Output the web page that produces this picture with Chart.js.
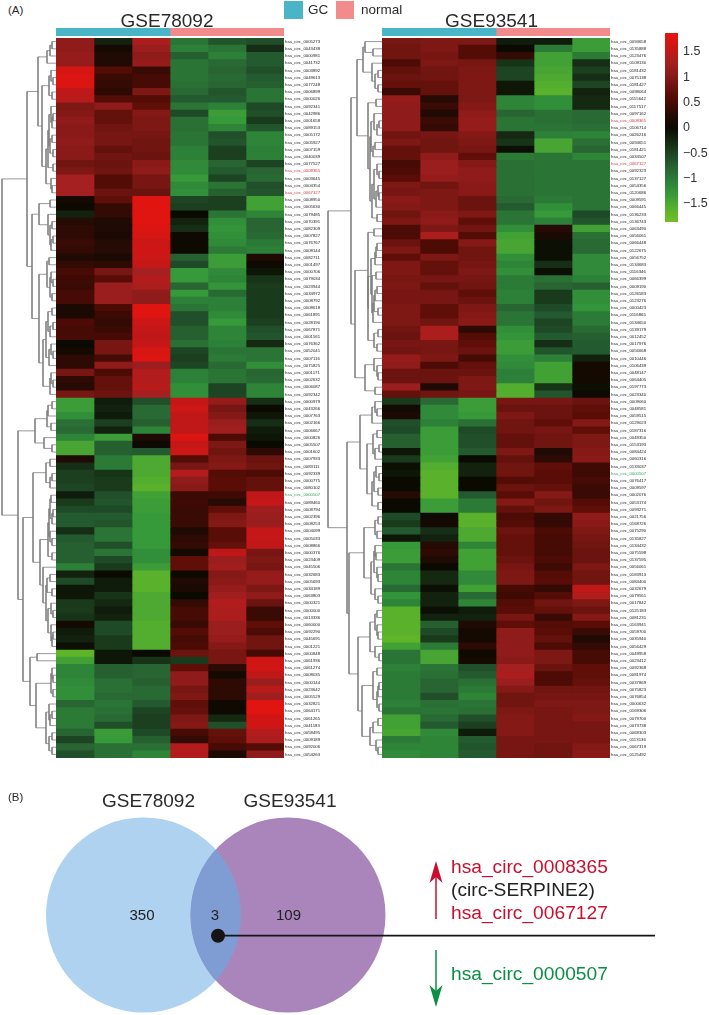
<!DOCTYPE html>
<html>
<head>
<meta charset="UTF-8"/>
<title>circRNA heatmaps and Venn</title>
<style>
  html, body { margin:0; padding:0; background:#fff; }
  body { position:relative; width:709px; height:1015px; overflow:hidden; font-family:'Liberation Sans', Arial, sans-serif; }
  canvas { position:absolute; display:block; }
  .t { position:absolute; white-space:nowrap; line-height:1; color:#2a2a2a; }
  .swatch { position:absolute; }
</style>
<script src="https://cdn.jsdelivr.net/npm/chart.js"></script>
</head>
<body>
<script>
const groupNames = ['GC', 'normal'];
const groupSizes = [3, 3];
const groupColors = ['#4AB5C6', '#F28B8B'];

const leftIds = ['0005273','0043438','0000981','0041732','0003892','0049613','0077248','0006899','0000026','0092341',
  '0042986','0001658','0089153','0005172','0005927','0007159','0040039','0077527','0008365','0003645',
  '0004354','0067127','0008950','0005630','0079485','0070391','0082309','0007827','0076767','0008144',
  '0082711','0001497','0000706','0079034','0023944','0034972','0008792','0008618','0061891','0028190',
  '0067871','0001561','0076362','0052041','0007116','0075825','0001171','0002632','0006087','0092342',
  '0000979','0043266','0007763','0002166','0006667','0000826','0005507','0001602','0007933','0083111',
  '0092339','0000775','0080102','0000507','0089460','0008794','0002396','0008253','0004099','0005033',
  '0008866','0000376','0023409','0045506','0032683','0005693','0034189','0063803','0000321','0000000',
  '0013336','0060000','0092290','0045691','0001221','0000848','0061936','0061274','0008035','0000144',
  '0023642','0005529','0032821','0064171','0061265','0041183','0058495','0009189','0092006','0054263'];

const rightIds = ['0094658','0135888','0123476','0108130','0181432','0075138','0181427','0098064','0115642','0117517',
  '0097162','0008365','0106714','0026216','0094651','0181421','0034507','0067127','0092323','0137127',
  '0054356','0120686','0009591','0066445','0136233','0136743','0063490','0056061','0066448','0122675',
  '0056752','0134683','0116346','0066399','0009190','0126583','0123276','0000423','0116865','0134650',
  '0139179','0012452','0017976','0056668','0010446','0106439','0048147','0064405','0197773','0023340',
  '0009060','0048581','0059515','0129023','0187316','0049350','0153193','0084424','0060316','0133037',
  '0000507','0076417','0009597','0002076','0053174','0093271','0021756','0168726','0075290','0135827',
  '0134432','0075598','0137595','0056061','0183913','0084400','0032679','0079561','0017842','0125183',
  '0081231','0163941','0059700','0035940','0056429','0049958','0023412','0092368','0081974','0037869',
  '0075823','0076854','0000632','0169306','0079700','0073738','0068303','0113136','0067319','0125492'];

const upIds = ['0008365', '0067127'];
const downIds = ['0000507'];

// z-scores, one row per circRNA
const leftRows = [
[1.1,-0.2,1.35,-0.95,-0.65,-0.6],[1.1,0.1,1.2,-1.05,-0.95,-0.3],[1.15,0.2,1.1,-0.75,-1.05,-0.7],[1.15,0.2,1.15,-0.95,-0.85,-0.7],
[1.7,0.6,0.4,-0.95,-0.8,-0.6],[1.75,0.4,0.5,-0.95,-0.85,-0.7],[1.75,0.35,0.5,-0.9,-0.8,-0.75],[1.5,0.3,0.95,-0.85,-0.65,-0.95],
[1.45,0.6,0.6,-0.7,-0.7,-0.95],[0.95,1.1,0.7,-0.95,-1.05,-0.55],[1.0,0.75,1.0,-0.55,-1.35,-0.6],[1.1,0.75,0.95,-0.9,-1.3,-0.4],
[1.05,0.85,0.95,-0.9,-1.1,-0.65],[1.05,0.9,0.9,-0.95,-0.6,-1.1],[1.1,0.9,0.85,-0.95,-0.65,-1.1],[1.05,0.75,0.85,-1.05,-0.45,-1.05],
[1.05,0.85,0.8,-1.05,-0.45,-1.05],[0.85,0.8,1.05,-1.15,-0.8,-0.5],[0.95,0.85,1.1,-1.15,-0.7,-0.8],[1.3,0.6,0.9,-1.3,-0.5,-0.85],
[1.3,0.6,0.9,-1.15,-0.95,-0.6],[1.3,0.8,0.8,-1.2,-0.75,-0.65],[0.1,0.7,1.8,-0.5,-0.45,-1.4],[0.05,0.35,1.8,-0.45,-0.45,-1.4],
[-0.2,0.35,1.8,0.0,-0.95,-1.1],[0.25,0.2,1.8,-0.2,-1.2,-0.8],[0.3,0.2,1.75,-0.3,-1.25,-0.8],[0.3,0.15,1.7,0.05,-1.2,-0.85],
[0.4,0.25,1.6,0.05,-1.15,-1.0],[0.35,0.25,1.65,0.05,-1.0,-1.05],[0.2,0.15,1.6,-0.75,-1.35,0.2],[0.35,0.3,1.55,-0.55,-1.35,0.05],
[0.5,0.9,1.3,-1.3,-1.15,-0.1],[0.45,0.65,1.4,-1.3,-1.1,-0.35],[0.4,1.2,1.35,-0.8,-1.25,-0.4],[0.5,1.2,1.1,-1.3,-0.85,-0.4],
[0.5,1.2,1.1,-1.05,-1.05,-0.4],[0.15,0.55,1.8,-0.95,-1.05,-0.4],[0.15,0.4,1.8,-0.6,-1.15,-0.4],[0.55,0.35,1.6,-0.6,-1.3,-0.45],
[0.5,0.4,1.55,-0.75,-1.1,-0.6],[0.5,0.5,1.5,-0.75,-1.1,-0.65],[0.0,0.9,1.55,-0.9,-1.05,-0.25],[0.1,0.9,1.7,-0.5,-0.95,-0.95],
[0.3,0.5,1.75,-0.45,-1.0,-0.95],[0.3,1.1,1.2,-0.5,-0.85,-1.2],[0.9,0.55,1.4,-1.05,-0.95,-0.8],[0.3,0.75,1.4,-1.05,-0.95,-0.85],
[0.25,0.75,1.45,-1.2,-0.5,-1.1],[0.9,0.8,1.3,-1.2,-0.5,-1.1],[-1.35,-0.15,-0.6,1.55,1.15,-0.3],[-1.35,-0.2,-0.85,1.6,0.9,0.0],
[-1.2,-0.15,-0.85,1.5,1.0,-0.1],[-0.9,-0.45,-0.75,1.5,1.2,-0.3],[-0.85,-0.2,-1.1,1.5,1.25,-0.15],[-1.1,-1.35,0.2,1.75,0.55,-0.1],
[-1.45,-0.75,0.05,1.55,0.95,0.0],[-1.45,-0.75,-0.7,1.6,0.85,0.3],[0.2,-1.0,-1.5,0.6,0.95,0.8],[-0.3,-1.0,-1.5,0.9,1.0,0.85],
[-0.45,-0.35,-1.5,1.4,0.6,0.55],[-0.45,-0.4,-1.55,1.1,0.65,0.75],[-0.5,-0.4,-1.6,1.05,0.65,0.75],[-0.15,-0.6,-1.4,0.4,0.45,1.5],
[-0.4,-0.65,-1.35,0.45,0.25,1.55],[-0.55,-0.55,-1.35,0.4,0.7,1.25],[-0.7,-0.7,-1.3,0.4,0.95,1.2],[-0.7,-0.65,-1.3,0.4,1.0,1.2],
[-0.3,-0.95,-1.3,0.2,0.65,1.55],[-0.7,-0.95,-1.3,0.3,0.65,1.55],[-0.75,-0.6,-1.3,0.35,0.75,1.5],[-0.75,-0.95,-1.2,0.1,1.5,0.9],
[-0.75,-0.55,-1.2,0.7,1.2,0.95],[-1.05,-0.4,-1.35,0.7,1.25,0.9],[-0.2,0.0,-1.6,0.05,1.0,1.15],[-0.55,-0.15,-1.6,0.2,1.05,1.15],
[-0.1,-0.15,-1.6,0.15,1.15,0.95],[-0.1,-0.35,-1.5,0.0,1.25,1.1],[-0.4,-0.25,-1.5,0.35,1.4,0.8],[-0.4,-0.15,-1.5,0.5,1.35,0.4],
[-0.35,-0.2,-1.5,0.5,1.35,0.4],[0.1,-0.55,-1.55,0.4,1.2,0.7],[-0.15,-0.55,-1.55,0.6,1.2,0.55],[-0.2,-0.4,-1.55,0.5,1.15,0.85],
[-0.05,-0.4,-1.55,0.55,1.0,0.85],[-1.65,-0.1,0.0,0.8,0.9,0.5],[-1.4,-0.1,-0.35,-0.4,0.9,1.65],[-1.1,-0.75,-0.8,0.7,0.3,1.65],
[-1.1,-0.75,-0.8,1.1,0.1,1.5],[-1.15,-0.9,-0.75,1.1,0.3,1.2],[-1.2,-0.9,-0.85,0.9,0.3,1.45],[-1.2,-0.85,-0.85,0.95,0.3,1.25],
[-0.8,-0.95,-0.7,0.7,0.05,1.8],[-1.0,-0.9,-0.5,0.75,0.05,1.8],[-1.0,-0.85,-0.45,0.95,-0.25,1.65],[-1.0,-0.6,-0.45,1.0,-0.6,1.65],
[-0.8,-1.35,-0.55,0.5,0.75,1.4],[-0.5,-1.3,-0.75,0.35,0.7,1.35],[-0.8,-0.9,-0.9,1.4,0.5,0.6],[-0.6,-0.9,-1.1,1.4,0.15,1.1]
];

const rightRows = [
[0.9,0.95,0.95,-0.15,-0.15,-1.35],[0.85,0.95,0.6,0.0,-1.0,-1.35],[0.85,0.9,0.6,0.35,-1.4,-1.0],[0.55,0.95,0.9,-0.35,-1.4,-0.3],
[0.75,0.85,0.95,-0.5,-1.45,-0.45],[0.8,0.85,0.95,-0.5,-1.5,-0.3],[0.75,0.75,0.95,-0.1,-1.55,-0.5],[0.4,0.75,0.95,-0.1,-1.6,-0.2],
[1.15,0.25,0.95,-1.1,-1.2,-0.25],[1.1,0.4,1.0,-1.1,-1.2,-0.25],[1.1,0.2,1.1,-0.8,-0.9,-0.85],[1.1,0.4,1.15,-0.95,-0.9,-0.85],
[1.1,0.35,1.15,-0.95,-0.95,-0.9],[0.85,0.9,1.0,-0.25,-1.05,-1.1],[0.95,0.85,0.95,-0.35,-1.45,-0.9],[0.75,0.85,0.9,-0.05,-1.45,-0.8],
[0.75,1.1,0.7,-1.0,-0.95,-1.1],[0.5,1.2,1.0,-0.9,-0.95,-0.95],[0.55,1.2,1.1,-0.9,-0.95,-0.95],[0.65,1.15,1.1,-0.9,-0.95,-0.95],
[0.95,0.85,1.05,-0.9,-0.95,-0.95],[0.9,0.95,1.05,-0.9,-0.95,-0.95],[1.05,0.95,0.8,-0.85,-1.0,-0.95],[1.0,0.95,0.8,-0.7,-1.2,-0.95],
[0.85,1.05,0.95,-0.95,-1.3,-0.55],[0.95,1.1,0.7,-0.95,-1.05,-0.65],[0.55,0.95,0.85,-1.2,0.25,-1.4],[0.55,1.35,0.6,-1.4,0.15,-0.9],
[0.8,0.55,1.0,-1.45,-0.05,-0.85],[0.95,0.55,0.85,-1.45,-0.05,-0.85],[0.7,0.95,0.85,-1.2,-0.05,-1.15],[0.95,0.75,0.9,-1.1,-0.3,-1.15],
[0.95,0.75,0.95,-1.2,-0.05,-1.15],[0.9,0.9,0.9,-1.0,-0.9,-1.05],[0.95,0.75,0.85,-1.0,-0.8,-0.75],[0.9,0.9,0.7,-1.05,-0.4,-1.2],
[0.9,0.9,0.8,-1.05,-0.4,-1.2],[0.95,0.7,0.95,-0.8,-0.55,-1.25],[0.95,0.7,1.0,-0.95,-0.7,-1.0],[0.95,0.85,1.05,-0.95,-0.5,-1.0],
[0.85,1.35,0.3,-1.2,-0.55,-0.85],[0.8,1.35,0.6,-1.25,-0.7,-0.75],[0.9,0.9,0.7,-1.35,-0.3,-0.7],[0.85,0.9,0.8,-1.35,-0.65,-0.7],
[1.15,0.95,0.5,-1.2,-1.05,-0.2],[1.1,0.55,0.75,-1.15,-1.4,0.1],[0.8,0.8,0.8,-1.05,-1.4,0.1],[0.8,0.8,0.95,-1.05,-1.4,0.1],
[1.2,0.2,0.95,-1.55,-0.35,-0.05],[0.75,0.85,0.9,-1.55,-0.65,0.05],[-0.4,-0.85,-1.35,0.9,0.9,0.8],[0.1,-1.15,-1.35,0.8,0.8,0.7],
[0.15,-1.15,-1.3,0.95,0.8,0.65],[-0.6,-1.05,-0.9,0.85,0.7,1.0],[-0.55,-1.35,-0.55,0.85,0.9,0.7],[-0.75,-1.35,-0.6,0.75,0.85,0.95],
[-0.75,-1.35,-0.6,0.75,0.85,0.95],[-0.1,-1.35,-0.7,0.95,0.2,1.0],[-0.4,-1.4,0.0,0.75,0.3,1.05],[-0.05,-1.55,-0.2,0.85,0.7,0.45],
[-0.1,-1.6,-0.2,0.85,0.65,0.45],[0.0,-1.6,0.0,0.6,0.65,0.5],[0.0,-1.6,0.0,0.8,0.75,0.4],[0.25,-1.6,-0.7,0.65,1.0,0.4],
[0.0,-1.35,-1.0,1.0,0.85,0.6],[0.0,-1.35,-1.0,0.75,0.95,0.7],[-0.55,0.05,-1.6,0.55,0.35,1.1],[-0.4,0.1,-1.6,0.6,0.35,1.05],
[-0.7,-0.3,-1.5,0.8,0.55,0.95],[-0.1,-0.2,-1.5,0.75,0.5,0.9],[-1.3,0.25,-1.1,0.75,0.5,0.85],[-1.35,0.3,-1.4,0.75,0.5,0.8],
[-1.35,0.2,-1.4,0.8,0.55,0.8],[-0.95,0.0,-1.4,0.9,0.45,0.95],[-1.1,-0.25,-1.15,0.95,0.6,0.85],[-1.1,-0.25,-1.15,0.95,0.65,0.85],
[-0.85,-0.05,-1.4,0.5,0.35,1.5],[-1.25,-0.2,-0.85,0.45,0.6,1.4],[-1.1,-0.2,-1.1,0.6,0.85,0.95],[-1.6,-0.05,-0.15,0.65,0.75,0.8],
[-1.6,-0.2,-0.2,0.9,0.4,1.0],[-1.6,-0.75,0.2,0.7,0.6,0.65],[-1.6,-0.55,0.1,1.1,0.65,0.4],[-1.65,-0.4,0.1,1.1,0.75,0.2],
[-1.4,-1.0,0.3,1.1,0.55,0.35],[-0.95,-1.45,0.05,1.1,0.95,0.5],[-0.95,-1.45,0.1,1.05,0.95,0.5],[-1.05,-0.95,-0.6,1.3,0.8,0.7],
[-1.0,-0.9,-0.7,1.35,0.55,0.7],[-1.0,-0.8,-0.9,1.2,0.55,0.75],[-1.0,-0.8,-1.0,1.0,0.85,0.85],[-1.0,-0.6,-1.1,0.85,0.9,0.9],
[-1.05,-0.9,-0.95,0.85,0.95,0.95],[-0.95,-0.95,-0.9,0.95,0.9,0.95],[-1.4,-0.85,-0.6,1.0,0.9,1.0],[-1.4,-0.7,-0.45,1.0,0.9,0.9],
[-1.45,-1.15,-0.15,1.0,0.9,0.9],[-1.0,-1.1,-0.7,0.9,0.9,0.9],[-1.1,-1.1,-0.65,0.9,0.85,1.0],[-1.15,-1.1,-0.7,0.9,0.85,1.05]
];

// height where neighbouring rows i and i+1 join in the tree
const leftJoins = [4,6,9,18,5,3,7,4,14,5,
  3,4,7,4,6,3,8,3,10,5,
  4,29,6,17,8,4,6,3,5,24,
  7,9,5,3,6,4,17,4,8,3,
  6,10,5,3,7,13,5,3,6,54,
  4,8,9,5,21,12,4,38,6,10,
  4,6,23,5,6,3,4,7,6,4,
  8,4,16,13,6,9,4,10,5,3,
  8,5,3,4,33,19,26,4,3,5,
  3,20,7,4,6,10,4,7,4];

const rightJoins = [17,9,19,10,4,7,4,25,6,14,
  8,3,5,11,7,9,12,5,3,8,
  4,3,6,10,5,31,8,14,5,6,
  7,11,6,10,5,7,8,4,9,14,
  4,8,5,27,8,5,4,17,7,54,
  7,5,10,22,5,9,3,7,15,6,
  3,8,4,10,4,35,4,7,5,18,
  7,6,8,5,4,11,7,4,33,5,
  7,5,4,12,7,3,24,5,9,3,
  4,5,3,20,4,9,12,6,4];

const colorTicks = [-1.5, -1, -0.5, 0, 0.5, 1, 1.5];
const colorRange = [-1.855, 1.875];
// value -> colour stops of the red/black/green key
const colorStops = [
  [-1.85,'#75BD28'],[-1.65,'#5FB52A'],[-1.3,'#36993A'],[-1.05,'#2C8038'],[-0.8,'#286533'],[-0.55,'#1F4A28'],[-0.4,'#1A3A1C'],
  [0,'#0A0A00'],[0.2,'#1F0A04'],[0.4,'#3A0A04'],[0.65,'#5A0C06'],[0.85,'#701510'],[1.05,'#8A1A18'],[1.3,'#A52020'],[1.5,'#C01818'],[1.875,'#E8140F']
];

const vennNames = ['GSE78092', 'GSE93541'];
const vennCounts = [350, 3, 109];

Chart.defaults.animation = false;
Chart.defaults.responsive = false;
Chart.defaults.plugins.legend.display = false;
Chart.defaults.plugins.tooltip.enabled = false;
Chart.defaults.font.family = "'Liberation Sans', Arial, sans-serif";

function hexRgb(h) { return [1, 3, 5].map(i => parseInt(h.slice(i, i + 2), 16)); }

function valueColor(v) {
  const s = colorStops;
  if (v <= s[0][0]) return s[0][1];
  for (let i = 1; i < s.length; i++) {
    if (v <= s[i][0]) {
      const t = (v - s[i - 1][0]) / (s[i][0] - s[i - 1][0]);
      const a = hexRgb(s[i - 1][1]), b = hexRgb(s[i][1]);
      return 'rgb(' + a.map((c, k) => Math.round(c + (b[k] - c) * t)).join(',') + ')';
    }
  }
  return s[s.length - 1][1];
}

function makeCanvas(left, top, width, height) {
  const c = document.createElement('canvas');
  c.width = width; c.height = height;
  c.style.left = left + 'px'; c.style.top = top + 'px';
  c.style.width = width + 'px'; c.style.height = height + 'px';
  document.body.appendChild(c);
  return c;
}

function text(str, x, y, size, color, align) {
  const d = document.createElement('div');
  d.className = 't';
  d.textContent = str;
  d.style.left = x + 'px'; d.style.top = y + 'px';
  d.style.fontSize = size + 'px';
  if (color) d.style.color = color;
  d.style.transform = 'translate(' + (align === 'center' ? '-50%' : '0') + ',-50%)';
  document.body.appendChild(d);
}

function swatch(x, y, w, h, color) {
  const d = document.createElement('div');
  d.className = 'swatch';
  d.style.cssText = `left:${x}px;top:${y}px;width:${w}px;height:${h}px;background:${color}`;
  document.body.appendChild(d);
}

const hidden = { display: false };

// keep the plot area flush with the canvas, the tick labels would pad it otherwise
const fitAxis = width => a => { a.width = width; a.paddingTop = 0; a.paddingBottom = 0; };

function heatmap(left, top, ids, rows) {
  const n = groupSizes.reduce((a, b) => a + b, 0);
  const datasets = [];
  for (let c = 0; c < n; c++) {
    datasets.push({
      data: rows.map(() => 1),
      backgroundColor: rows.map(r => valueColor(r[c])),
      barPercentage: 1,
      categoryPercentage: 1
    });
  }
  new Chart(makeCanvas(left, top, 228 + 38, 720), {
    type: 'bar',
    data: { labels: ids.map(i => 'hsa_circ_' + i), datasets },
    options: {
      indexAxis: 'y',
      scales: {
        x: { stacked: true, min: 0, max: n, display: false },
        y: {
          stacked: true,
          position: 'right',
          afterFit: fitAxis(38),
          grid: { display: false, drawTicks: false },
          border: hidden,
          ticks: {
            autoSkip: false,
            padding: 1,
            font: { size: 4.3 },
            color: c => {
              const id = ids[c.index];
              if (upIds.includes(id)) return '#D8333A';
              if (downIds.includes(id)) return '#2FA35A';
              return '#1a1a1a';
            }
          }
        }
      }
    }
  });
}

// groups bar above the heatmap
function groupBar(left, top) {
  new Chart(makeCanvas(left, top, 228, 8), {
    type: 'bar',
    data: {
      labels: ['group'],
      datasets: groupNames.map((g, i) => ({
        label: g, data: [groupSizes[i]], backgroundColor: groupColors[i],
        barPercentage: 1, categoryPercentage: 1
      }))
    },
    options: {
      indexAxis: 'y',
      scales: {
        x: { stacked: true, min: 0, max: 6, display: false },
        y: { stacked: true, display: false }
      }
    }
  });
}

// the tree comes from the join heights: split at the highest join, recurse
function treeLines(joins, from, to, out) {
  if (from === to) return { y: from + 0.5, h: 0 };
  let at = from;
  for (let i = from; i < to; i++) if (joins[i] > joins[at]) at = i;
  const a = treeLines(joins, from, at, out);
  const b = treeLines(joins, at + 1, to, out);
  const h = joins[at];
  out.push({ x: a.h, y: a.y }, { x: h, y: a.y }, { x: h, y: b.y }, { x: b.h, y: b.y }, { x: NaN, y: NaN });
  return { y: (a.y + b.y) / 2, h };
}

function dendrogram(left, top, joins) {
  const lines = [];
  treeLines(joins, 0, joins.length, lines);
  new Chart(makeCanvas(left, top, 56, 720), {
    type: 'scatter',
    data: { datasets: [{ data: lines, showLine: true, spanGaps: false, pointRadius: 0, borderColor: '#7d7d7d', borderWidth: 0.8, clip: false }] },
    options: {
      scales: {
        x: { type: 'linear', reverse: true, min: 0, max: 56, display: false },
        y: { type: 'linear', reverse: true, min: 0, max: joins.length + 1, display: false }
      }
    }
  });
}

function colorKey() {
  new Chart(makeCanvas(665, 33, 44, 189), {
    type: 'bar',
    data: {
      labels: ['key'],
      datasets: [{
        data: [colorRange],
        barPercentage: 1,
        categoryPercentage: 1,
        backgroundColor: ctx => {
          const { chart } = ctx;
          if (!chart.chartArea) return '#000';
          const y = chart.scales.y;
          const g = chart.ctx.createLinearGradient(0, y.getPixelForValue(colorRange[1]), 0, y.getPixelForValue(colorRange[0]));
          colorStops.forEach(s => {
            const t = (colorRange[1] - s[0]) / (colorRange[1] - colorRange[0]);
            g.addColorStop(Math.min(1, Math.max(0, t)), s[1]);
          });
          return g;
        }
      }]
    },
    options: {
      scales: {
        x: { display: false },
        y: {
          position: 'right',
          min: colorRange[0], max: colorRange[1],
          afterFit: fitAxis(31),
          afterBuildTicks: a => { a.ticks = colorTicks.map(v => ({ value: v })); },
          grid: { display: false, drawTicks: false },
          border: hidden,
          ticks: {
            padding: 5,
            font: { size: 12.5 },
            color: '#333',
            callback: v => String(v).replace('-', '\u2212')
          }
        }
      }
    }
  });
}

function arrowHead(color, down) {
  const c = document.createElement('canvas');
  c.width = 14; c.height = 46;
  const g = c.getContext('2d');
  g.fillStyle = color;
  if (down) { g.translate(0, 46); g.scale(1, -1); }
  g.beginPath();
  g.moveTo(7, 0); g.lineTo(13.5, 22); g.lineTo(7, 16); g.lineTo(0.5, 22);
  g.closePath();
  g.fill();
  return c;
}

// the shared part of the two sets is the first circle clipped to the second
const clipLens = {
  id: 'clipLens',
  beforeDatasetDraw(chart, args) {
    if (!chart.data.datasets[args.index].lens) return;
    const at = chart.data.datasets.findIndex(d => d.clipTo);
    const p = chart.getDatasetMeta(at).data[0];
    chart.ctx.save();
    chart.ctx.beginPath();
    chart.ctx.arc(p.x, p.y, p.options.radius, 0, Math.PI * 2);
    chart.ctx.clip();
  },
  afterDatasetDraw(chart, args) {
    if (chart.data.datasets[args.index].lens) chart.ctx.restore();
  }
};

function venn() {
  const r = 97.5;
  const circle = (x, color, extra) => Object.assign({
    type: 'bubble', data: [{ x, y: 915, r }], backgroundColor: color, borderWidth: 0, clip: false
  }, extra);
  const seg = (pts, color, width, extra) => Object.assign({
    type: 'scatter', data: pts.map(p => ({ x: p[0], y: p[1] })), showLine: true,
    borderColor: color, borderWidth: width, pointRadius: 0, clip: false
  }, extra);
  // first dataset is drawn last
  new Chart(makeCanvas(0, 790, 709, 225), {
    type: 'bubble',
    plugins: [clipLens],
    data: {
      datasets: [
        seg([[218, 935.7]], '#151515', 0, { pointRadius: 7, pointBackgroundColor: '#151515' }),
        seg([[218, 935.7], [655, 935.7]], '#151515', 1.8),
        seg([[436, 884]], '#C8102E', 0, { pointStyle: arrowHead('#C8102E', false), pointRadius: 7 }),
        seg([[436, 919], [436, 872]], '#C8102E', 1.5),
        seg([[436, 984]], '#0B8F45', 0, { pointStyle: arrowHead('#0B8F45', true), pointRadius: 7 }),
        seg([[436, 950], [436, 995]], '#0B8F45', 1.5),
        circle(143.5, '#7F9DD2', { lens: true }),
        circle(288, '#A985BC', { clipTo: true }),
        circle(143.5, '#AED2F0')
      ]
    },
    options: {
      layout: { autoPadding: false },
      scales: {
        x: { type: 'linear', min: 0, max: 709, display: false },
        y: { type: 'linear', min: 790, max: 1015, reverse: true, display: false }
      }
    }
  });
}

groupBar(56, 28);
groupBar(382, 28);
dendrogram(0, 38, leftJoins);
dendrogram(326, 38, rightJoins);
heatmap(56, 38, leftIds, leftRows);
heatmap(382, 38, rightIds, rightRows);
colorKey();
venn();

text('(A)', 8, 11, 11.5);
text(vennNames[0], 167, 19.5, 19, null, 'center');
text(vennNames[1], 491.5, 19.5, 19, null, 'center');
swatch(284, 1, 19, 18, groupColors[0]);
text(groupNames[0], 308, 10, 13.5);
swatch(336, 1, 18, 18, groupColors[1]);
text(groupNames[1], 361, 10, 13.5);

text('(B)', 8, 798, 11.5);
text(vennNames[0], 148.5, 800, 19, null, 'center');
text(vennNames[1], 290, 800, 19, null, 'center');
text(String(vennCounts[0]), 142, 914, 15, '#222', 'center');
text(String(vennCounts[1]), 215, 914, 15, '#222', 'center');
text(String(vennCounts[2]), 288.5, 914, 15, '#222', 'center');
text('hsa_circ_0008365', 451, 867, 19.2, '#C8102E');
text('(circ-SERPINE2)', 451, 890, 19.2, '#222');
text('hsa_circ_0067127', 451, 913, 19.2, '#C8102E');
text('hsa_circ_0000507', 451, 973.5, 19.2, '#0B8F45');
</script>
</body>
</html>
